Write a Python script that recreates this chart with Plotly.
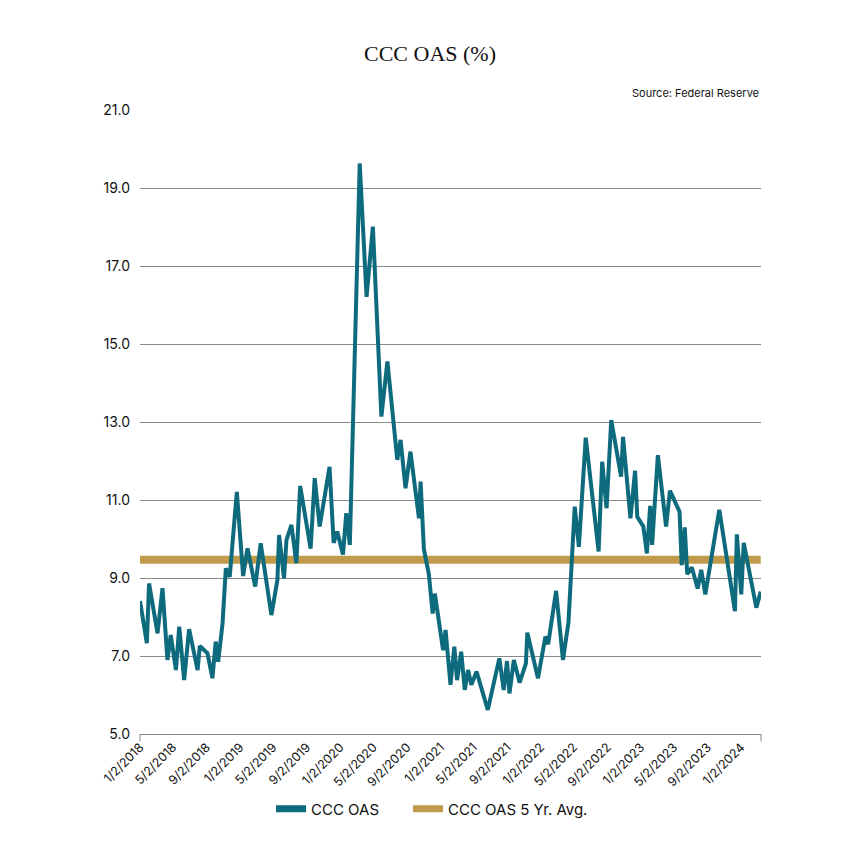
import plotly.graph_objects as go

dates = [
    "2018-01-02", "2018-01-27", "2018-02-04", "2018-03-07", "2018-03-25", "2018-04-12",
    "2018-04-24", "2018-05-13", "2018-05-25", "2018-06-12", "2018-06-30", "2018-07-31",
    "2018-08-08", "2018-09-05", "2018-09-23", "2018-10-05", "2018-10-14", "2018-10-30",
    "2018-11-11", "2018-11-25", "2018-12-21", "2019-01-13", "2019-01-29", "2019-02-26",
    "2019-03-18", "2019-04-26", "2019-05-18", "2019-05-24", "2019-06-11", "2019-06-20",
    "2019-07-08", "2019-07-26", "2019-08-09", "2019-09-16", "2019-10-01", "2019-10-19",
    "2019-11-24", "2019-12-09", "2019-12-22", "2020-01-12", "2020-01-24", "2020-02-06",
    "2020-03-13", "2020-04-07", "2020-04-30", "2020-05-31", "2020-06-22", "2020-07-16",
    "2020-07-28", "2020-08-09", "2020-08-27", "2020-09-14", "2020-10-15", "2020-10-21",
    "2020-11-02", "2020-11-20", "2020-12-04", "2020-12-12", "2021-01-11", "2021-01-20",
    "2021-02-07", "2021-02-21", "2021-03-03", "2021-03-18", "2021-03-31", "2021-04-12",
    "2021-04-24", "2021-05-13", "2021-06-23", "2021-08-04", "2021-08-20", "2021-09-01",
    "2021-09-10", "2021-09-26", "2021-10-17", "2021-11-09", "2021-11-14", "2021-12-23",
    "2022-01-19", "2022-01-29", "2022-02-27", "2022-03-24", "2022-04-13", "2022-05-06",
    "2022-05-21", "2022-06-15", "2022-08-01", "2022-08-14", "2022-08-30", "2022-09-16",
    "2022-10-22", "2022-10-29", "2022-11-25", "2022-12-12", "2022-12-20", "2023-01-11",
    "2023-01-24", "2023-02-05", "2023-02-12", "2023-03-05", "2023-04-04", "2023-04-18",
    "2023-05-23", "2023-05-31", "2023-06-11", "2023-06-20", "2023-07-07", "2023-07-28",
    "2023-08-10", "2023-08-25", "2023-10-15", "2023-12-11", "2023-12-18", "2024-01-03",
    "2024-01-12", "2024-02-27", "2024-03-14",
]

ccc_oas = [
    8.41, 7.33, 8.86, 7.58, 8.74, 6.90,
    7.54, 6.64, 7.75, 6.38, 7.69, 6.64,
    7.26, 7.07, 6.43, 7.37, 6.85, 7.84,
    9.25, 9.03, 11.21, 9.05, 9.76, 8.78,
    9.89, 8.05, 8.95, 10.10, 8.99, 9.97,
    10.36, 9.38, 11.36, 9.75, 11.56, 10.32,
    11.85, 9.90, 10.19, 9.60, 10.66, 9.85,
    19.63, 16.21, 18.01, 13.14, 14.55, 12.79,
    12.03, 12.54, 11.30, 12.24, 10.53, 11.47,
    9.74, 9.10, 8.09, 8.60, 7.15, 7.67,
    6.26, 7.24, 6.38, 7.11, 6.13, 6.64,
    6.26, 6.60, 5.62, 6.94, 6.13, 6.87,
    6.04, 6.90, 6.32, 6.81, 7.60, 6.43,
    7.50, 7.30, 8.67, 6.90, 7.86, 10.83,
    9.80, 12.60, 9.68, 11.98, 10.79, 13.05,
    11.60, 12.62, 10.53, 11.75, 10.57, 10.32,
    9.63, 10.85, 9.85, 12.15, 10.32, 11.24,
    10.70, 9.33, 10.30, 9.10, 9.27, 8.73,
    9.21, 8.58, 10.75, 8.15, 10.12, 8.58,
    9.90, 8.24, 8.65,
]

avg_5yr = 9.47
avg_dates = [dates[0], dates[-1]]
avg_values = [avg_5yr, avg_5yr]

tick_dates = [
    "2018-01-02", "2018-05-02", "2018-09-02", "2019-01-02", "2019-05-02", "2019-09-02",
    "2020-01-02", "2020-05-02", "2020-09-02", "2021-01-02", "2021-05-02", "2021-09-02",
    "2022-01-02", "2022-05-02", "2022-09-02", "2023-01-02", "2023-05-02", "2023-09-02",
    "2024-01-02",
]
tick_labels = [
    "1/2/2018", "5/2/2018", "9/2/2018", "1/2/2019", "5/2/2019", "9/2/2019",
    "1/2/2020", "5/2/2020", "9/2/2020", "1/2/2021", "5/2/2021", "9/2/2021",
    "1/2/2022", "5/2/2022", "9/2/2022", "1/2/2023", "5/2/2023", "9/2/2023",
    "1/2/2024",
]
y_ticks = [5, 7, 9, 11, 13, 15, 17, 19, 21]
y_tick_labels = ["5.0", "7.0", "9.0", "11.0", "13.0", "15.0", "17.0", "19.0", "21.0"]

TEAL = "#0E6B7D"
GOLD = "#C19A4B"
FONT = "Inter"

fig = go.Figure()
# data traces (legend hidden; legend uses swatch entries below)
fig.add_trace(go.Scatter(
    x=avg_dates, y=avg_values, mode="lines", name="CCC OAS 5 Yr. Avg.",
    line=dict(color=GOLD, width=8), showlegend=False,
))
fig.add_trace(go.Scatter(
    x=dates, y=ccc_oas, mode="lines", name="CCC OAS",
    line=dict(color=TEAL, width=4), showlegend=False,
))
# legend swatches
fig.add_trace(go.Scatter(
    x=[None], y=[None], mode="lines", name="CCC OAS",
    line=dict(color=TEAL, width=7), legend="legend",
))
fig.add_trace(go.Scatter(
    x=[None], y=[None], mode="lines", name="CCC OAS 5 Yr. Avg.",
    line=dict(color=GOLD, width=7), legend="legend2",
))

legend_common = dict(
    orientation="h", xanchor="left", y=-0.1202, yanchor="middle",
    font=dict(family=FONT, size=15, color="#111111"), itemwidth=30,
    bgcolor="rgba(0,0,0,0)",
)

fig.update_layout(
    width=860, height=860,
    margin=dict(l=132, r=107, t=102, b=134),
    paper_bgcolor="white", plot_bgcolor="white",
    font=dict(family=FONT, color="#111111"),
    title=dict(
        text="CCC OAS (%)", x=0.4907, xanchor="center", y=1 - 45 / 860, yanchor="middle",
        yref="container", font=dict(family="Liberation Serif", size=22, color="#111111"),
    ),
    showlegend=True,
    legend=dict(x=0.211, **legend_common),
    legend2=dict(x=0.4316, **legend_common),
    annotations=[dict(
        text="Source: Federal Reserve", xref="paper", yref="paper", x=1.0, y=1.027,
        xanchor="right", yanchor="middle", showarrow=False,
        font=dict(family=FONT, size=11, color="#111111"),
    )],
    shapes=[
        dict(type="line", xref="paper", yref="paper", x0=0, x1=0, y0=0, y1=-0.012,
             line=dict(color="#8a8a8a", width=1)),
        dict(type="line", xref="paper", yref="paper", x0=1, x1=1, y0=0, y1=-0.012,
             line=dict(color="#8a8a8a", width=1)),
    ],
)

fig.update_xaxes(
    type="date", range=[dates[0], "2024-03-15"],
    tickvals=tick_dates, ticktext=tick_labels, tickangle=-45,
    tickfont=dict(family=FONT, size=12.5, color="#111111"),
    showgrid=False, showline=True, linecolor="#8a8a8a", linewidth=1,
    ticks="", zeroline=False,
)
fig.update_yaxes(
    range=[5, 21], tickvals=y_ticks, ticktext=y_tick_labels,
    tickfont=dict(family=FONT, size=14, color="#111111"),
    showgrid=True, gridcolor="#8a8a8a", gridwidth=1, zeroline=False,
    showline=False, ticks="", ticklabelstandoff=9,
)

fig.write_html("out.html")
